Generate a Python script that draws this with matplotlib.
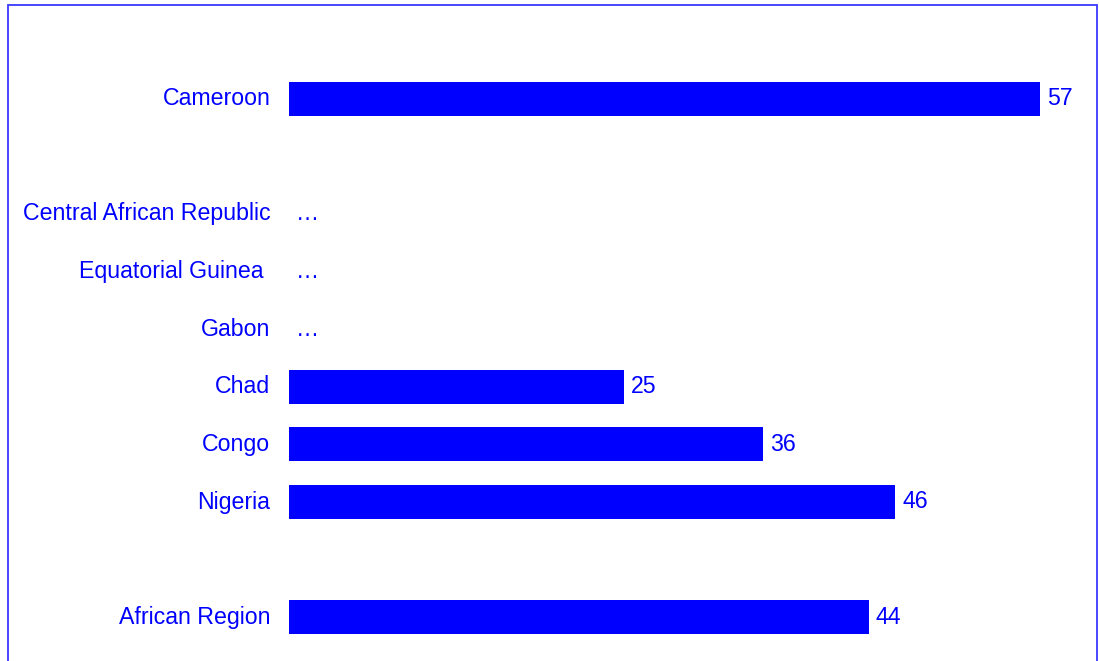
import matplotlib
matplotlib.use("Agg")
import matplotlib.pyplot as plt
import matplotlib.transforms as mtransforms
from matplotlib.patches import Rectangle

categories = ["Cameroon", "", "Central African Republic", "Equatorial Guinea ",
              "Gabon", "Chad", "Congo", "Nigeria", "", "African Region"]
values = [57, None, None, None, None, 25.4, 36, 46, None, 44]
labels = ["57", "", "…", "…", "…", "25", "36", "46", "", "44"]

BLUE = "#0000FF"
plt.rcParams["font.family"] = ["Liberation Sans", "DejaVu Sans"]

fig = plt.figure(figsize=(10.99, 6.61), dpi=100)
W, H = 1099, 661
ax = fig.add_axes([289 / W, (H - 646) / H, 790.8 / W, 576 / H])

pos = list(range(len(categories)))
bar_pos = [p for p, v in zip(pos, values) if v is not None]
bar_val = [v for v in values if v is not None]
bar_lab = [l for l, v in zip(labels, values) if v is not None]
bars = ax.barh(bar_pos, bar_val, height=0.59, color=BLUE)
ax.bar_label(bars, labels=bar_lab, padding=5, color=BLUE, fontsize=16.7)

for p, v, l in zip(pos, values, labels):
    if v is None and l:
        ax.annotate(l, xy=(0, p), xytext=(5, 0), textcoords="offset points",
                    va="center", ha="left", color=BLUE, fontsize=16.7)

ax.set_xlim(0, 60)
ax.set_ylim(len(categories) - 0.5, -0.5)
ax.set_yticks(pos)
ax.set_yticklabels(categories, color=BLUE, fontsize=16.7)
ax.tick_params(axis="y", length=0, pad=13.5)
shift = mtransforms.ScaledTranslation(0, 2.5 / 100, fig.dpi_scale_trans)
for t in ax.get_yticklabels():
    t.set_transform(t.get_transform() + shift)
ax.set_xticks([])
for s in ax.spines.values():
    s.set_visible(False)

fig.patches.append(Rectangle((8 / W, -0.05), (1097 - 8) / W, (H - 4.5) / H + 0.05,
                             transform=fig.transFigure, fill=False,
                             edgecolor="#3838ff", linewidth=1.3, clip_on=False))

fig.savefig("out.png", dpi=100)
